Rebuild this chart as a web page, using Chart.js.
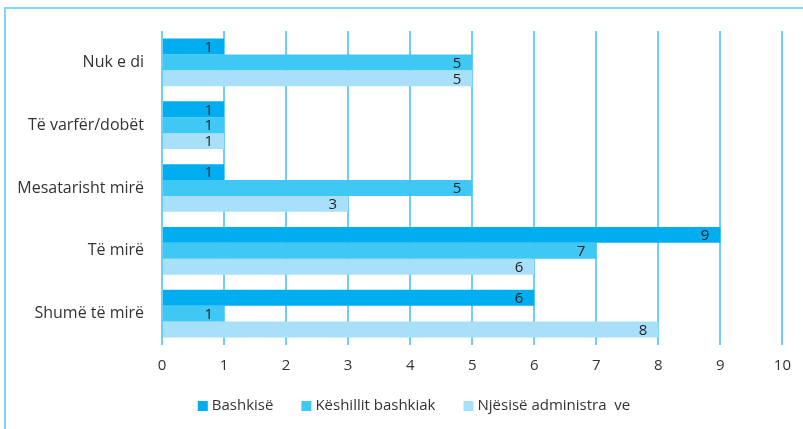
<!DOCTYPE html>
<html>
<head>
<meta charset="utf-8">
<script src="https://cdn.jsdelivr.net/npm/chart.js@4.4.0/dist/chart.umd.min.js"></script>
<style>
  html, body { margin: 0; padding: 0; background: #fff; }
  #wrap { position: relative; width: 803px; height: 429px; }
  #frame {
    position: absolute; left: 4px; top: 7px; right: 0; bottom: 0;
    border-left: 2px solid #7fd5f5; border-top: 2px solid #7fd5f5;
  }
  canvas { position: absolute; left: 0; top: 0; }
</style>
</head>
<body>
<div id="wrap">
  <div id="frame"></div>
  <canvas id="chart" width="803" height="429"></canvas>
</div>
<script>
// Categories (top to bottom)
const categories = ['Nuk e di', 'Të varfër/dobët', 'Mesatarisht mirë', 'Të mirë', 'Shumë të mirë'];

// Series
const seriesNames = ['Bashkisë', 'Këshillit bashkiak', 'Njësisë administra  ve'];
const bashkise = [1, 1, 1, 9, 6];
const keshillit = [5, 1, 5, 7, 1];
const njesise = [5, 1, 3, 6, 8];

// X axis ticks
const xTicks = [0, 1, 2, 3, 4, 5, 6, 7, 8, 9, 10];

const colors = ['#00aeef', '#40c8f4', '#a8e0f9'];
const fontFamily = '"Open Sans", sans-serif';

// value labels at the end of each bar
const valueLabels = {
    id: 'valueLabels',
    afterDatasetsDraw(chart) {
        const ctx = chart.ctx;
        ctx.save();
        ctx.font = '15px ' + fontFamily;
        ctx.fillStyle = '#222';
        ctx.textAlign = 'right';
        ctx.textBaseline = 'middle';
        chart.data.datasets.forEach((ds, i) => {
            chart.getDatasetMeta(i).data.forEach((bar, j) => {
                ctx.fillText(ds.data[j], bar.x - 11, bar.y + 1);
            });
        });
        ctx.restore();
    }
};

// legend drawn by hand so the spacing matches
const bottomLegend = {
    id: 'bottomLegend',
    afterDraw(chart) {
        const ctx = chart.ctx;
        ctx.save();
        ctx.font = '15px ' + fontFamily;
        ctx.textBaseline = 'middle';
        const box = 10, textGap = 4, itemGap = 28, cy = 406;
        const widths = seriesNames.map(n => ctx.measureText(n).width);
        const total = widths.reduce((a, w) => a + box + textGap + w, 0) + itemGap * (seriesNames.length - 1);
        let x = 414 - total / 2;
        seriesNames.forEach((n, i) => {
            ctx.fillStyle = colors[i];
            ctx.fillRect(x, cy - 5, box, box);
            ctx.fillStyle = '#333';
            ctx.fillText(n, x + box + textGap, cy);
            x += box + textGap + widths[i] + itemGap;
        });
        ctx.restore();
    }
};

new Chart(document.getElementById('chart'), {
    type: 'bar',
    data: {
        labels: categories,
        datasets: [
            { label: seriesNames[0], data: bashkise, backgroundColor: colors[0] },
            { label: seriesNames[1], data: keshillit, backgroundColor: colors[1] },
            { label: seriesNames[2], data: njesise, backgroundColor: colors[2] }
        ]
    },
    options: {
        indexAxis: 'y',
        responsive: false,
        animation: false,
        devicePixelRatio: 1,
        layout: { padding: { top: 31, right: 20, left: 0, bottom: 44 } },
        datasets: { bar: { barPercentage: 1, categoryPercentage: 0.76 } },
        plugins: {
            tooltip: { enabled: false },
            legend: { display: false }
        },
        scales: {
            x: {
                min: 0,
                max: 10,
                z: 1,
                afterBuildTicks(scale) { scale.ticks = xTicks.map(v => ({ value: v })); },
                afterFit(scale) { scale.height = 40; },
                grid: { color: '#6dcff6', lineWidth: 2, drawTicks: false },
                border: { display: false },
                ticks: { color: '#333', padding: 12, font: { family: fontFamily, size: 15 } }
            },
            y: {
                afterFit(scale) { scale.width = 162; },
                grid: { display: false },
                border: { display: false },
                ticks: { color: '#333', padding: 10, font: { family: fontFamily, size: 16 } }
            }
        }
    },
    plugins: [valueLabels, bottomLegend]
});
</script>
</body>
</html>
